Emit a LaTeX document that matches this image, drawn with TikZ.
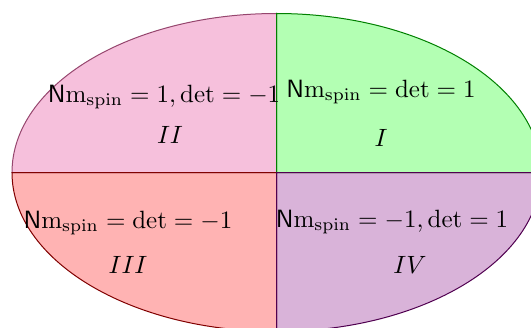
\documentclass[tikz,border=0pt]{standalone}
\usepackage{amsmath}
\definecolor{qtwo}{RGB}{246,192,220}
\definecolor{qtwoline}{RGB}{150,70,110}
\definecolor{qone}{RGB}{179,255,179}
\definecolor{qoneline}{RGB}{0,128,0}
\definecolor{qthree}{RGB}{255,179,179}
\definecolor{qthreeline}{RGB}{128,0,0}
\definecolor{qfour}{RGB}{217,179,217}
\definecolor{qfourline}{RGB}{80,0,80}
\begin{document}
\begin{tikzpicture}[x=0.4pt,y=0.4pt,
  quad/.style={line width=0.4pt},
  lbl/.style={inner sep=0pt, font=\normalsize}]
\useasboundingbox (0,0) rectangle (531,327);
\clip (0,0) rectangle (531,327);
\coordinate (c) at (276.5,154.5);
\fill[qtwo] (c) -- ++(0,159) arc[start angle=90,end angle=180,x radius=264.5,y radius=159] -- cycle;
\fill[qone] (c) -- ++(264.5,0) arc[start angle=0,end angle=90,x radius=264.5,y radius=159] -- cycle;
\fill[qthree] (c) -- ++(-264.5,0) arc[start angle=180,end angle=270,x radius=264.5,y radius=159] -- cycle;
\fill[qfour] (c) -- ++(0,-159) arc[start angle=270,end angle=360,x radius=264.5,y radius=159] -- cycle;
\draw[quad,qtwoline] (c) -- ++(0,159) arc[start angle=90,end angle=180,x radius=264.5,y radius=159] -- cycle;
\draw[quad,qoneline] (c) -- ++(264.5,0) arc[start angle=0,end angle=90,x radius=264.5,y radius=159] -- cycle;
\draw[quad,qthreeline] (c) -- ++(-264.5,0) arc[start angle=180,end angle=270,x radius=264.5,y radius=159] -- cycle;
\draw[quad,qfourline] (c) -- ++(0,-159) arc[start angle=270,end angle=360,x radius=264.5,y radius=159] -- cycle;
\node[lbl] (t2) at (164,230) {$\mathsf{N}\mathrm{m}_{\mathrm{spin}} = 1, \det = -1$};
\node[lbl] (r2) at (170,192) {$II$};
\node[lbl] (t1) at (381,235) {$\mathsf{N}\mathrm{m}_{\mathrm{spin}} = \det = 1$};
\node[lbl] (r1) at (381,189) {$I$};
\node[lbl] (t3) at (128,104) {$\mathsf{N}\mathrm{m}_{\mathrm{spin}} = \det = -1$};
\node[lbl] (r3) at (128,62) {$III$};
\node[lbl] (t4) at (392,105) {$\mathsf{N}\mathrm{m}_{\mathrm{spin}} = -1, \det = 1$};
\node[lbl] (r4) at (410,62) {$IV$};
\end{tikzpicture}
\end{document}
